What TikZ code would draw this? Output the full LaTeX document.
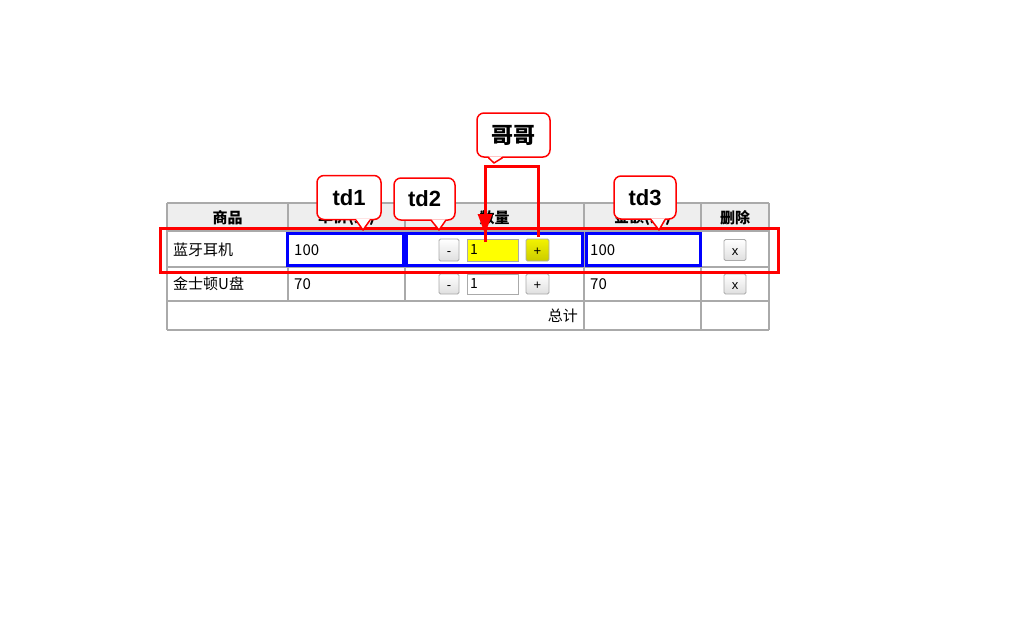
\documentclass[tikz,border=0pt]{standalone}
\usepackage{fontspec}
\setmainfont{Liberation Sans}
\newfontfamily\cjk{Noto Sans CJK SC}
\usetikzlibrary{arrows.meta}

\definecolor{gridgray}{HTML}{AAAAAA}
\definecolor{headgray}{HTML}{EEEEEE}
\definecolor{marker}{HTML}{FF0000}
\definecolor{cellblue}{HTML}{0000FF}
\definecolor{hiyellow}{HTML}{FFFF00}

% speech bubble pointer: #1 node, #2 base shift, #3 tip
\newcommand{\bubtip}[3]{%
  \fill[white] ([xshift=#2-7pt,yshift=1.5pt]#1.south) -- #3 -- ([xshift=#2+7pt,yshift=1.5pt]#1.south) -- cycle;
  \draw[marker,line width=1.5pt,line join=round] ([xshift=#2-7pt]#1.south) -- #3 -- ([xshift=#2+7pt]#1.south);
}

\begin{document}
\begin{tikzpicture}[x=1pt,y=-1pt,
  gridline/.style={gridgray,line width=2pt},
  cell/.style={font=\cjk\fontsize{15}{18}\selectfont,inner sep=0pt},
  headcell/.style={cell,font=\cjk\bfseries\fontsize{15}{18}\selectfont},
  btn/.style={draw=gridgray,line width=0.8pt,rounded corners=1.5pt,top color=white,bottom color=gray!25,
    font=\fontsize{13}{15}\selectfont,text height=10pt,text depth=0pt,minimum height=22pt,inner sep=0pt},
  inbox/.style={draw=gridgray,line width=0.8pt,minimum width=51pt,minimum height=22pt,inner sep=2pt,
    font=\cjk\fontsize{14}{16}\selectfont,text width=45pt,align=left},
  tdbox/.style={draw=cellblue,line width=3pt},
  bubble/.style={draw=marker,fill=white,line width=1.5pt,rounded corners=7pt,
    inner sep=0pt,font=\bfseries\fontsize{22}{26}\selectfont},
  redline/.style={marker,line width=3pt}]
\useasboundingbox (0,0) rectangle (1021,619);

% Header row
\fill[headgray] (167,203) rectangle (769,231);

% Table grid
\foreach \y in {203,231,267,301,330}
  \draw[gridline] (167,\y) -- (769,\y);
\foreach \x in {167,584,701,769}
  \draw[gridline] (\x,203) -- (\x,330);
\foreach \x in {288,405}
  \draw[gridline] (\x,203) -- (\x,301);

% Header texts
\node[headcell] (hname)  at (227.5,218) {商品};
\node[headcell] (hprice) at (346.5,218) {单价(元)};
\node[headcell] (hqty)   at (494.5,218) {数量};
\node[headcell] (hsum)   at (642.5,218) {金额(元)};
\node[headcell] (hdel)   at (735,218)   {删除};

% Row 1
\node[cell,anchor=west] (name1)  at (173,250) {蓝牙耳机};
\node[cell,anchor=west] (price1) at (294,250) {100};
\node[btn,minimum width=20pt] (minus1) at (449,250) {-};
\node[inbox,fill=hiyellow] (qty1) at (492.5,250) {1};
\node[btn,minimum width=23pt,top color=hiyellow!95!black,bottom color=hiyellow!80!black] (plus1) at (537.5,250) {+};
\node[cell,anchor=west] (sum1)   at (590,250) {100};
\node[btn,minimum width=22pt,minimum height=21pt] (del1) at (735,250) {x};

% Row 2
\node[cell,anchor=west] (name2)  at (173,284) {金士顿U盘};
\node[cell,anchor=west] (price2) at (294,284) {70};
\node[btn,minimum width=20pt,minimum height=20pt] (minus2) at (449,284) {-};
\node[inbox,fill=white,minimum height=20pt] (qty2) at (492.5,284) {1};
\node[btn,minimum width=23pt,minimum height=20pt] (plus2) at (537.5,284) {+};
\node[cell,anchor=west] (sum2)   at (590,284) {70};
\node[btn,minimum width=22pt,minimum height=20pt] (del2) at (735,284) {x};

% Total row
\node[cell,anchor=east] (total) at (578,316) {总计};

% td marks
\draw[tdbox] (287,233) rectangle (403,265);
\draw[tdbox] (406,233) rectangle (582,265);
\draw[tdbox] (586,233) rectangle (700,265);
\draw[redline] (160,228) rectangle (778,272);

% Brother arrows
\coordinate (gl) at (485,166);
\coordinate (gr) at (538,166);
\coordinate (al) at (485,242);
\coordinate (ar) at (538,237);
\draw[redline] (al) -- (gl) -- (gr) -- (ar);
\draw[marker,line width=3pt,-{Triangle[width=14pt,length=20pt]}] (485,205) -- (485,234);

% Callouts
\node[bubble,minimum width=64pt,minimum height=44pt] (td1) at (349,197.5) {td1};
\bubtip{td1}{14pt}{(363,230)}
\node[bubble,minimum width=61pt,minimum height=42pt] (td2) at (424.5,199) {td2};
\bubtip{td2}{14pt}{(439,230)}
\node[bubble,minimum width=62pt,minimum height=43pt] (td3) at (645,197.5) {td3};
\bubtip{td3}{13pt}{(659,230)}
\node[bubble,font=\cjk\bfseries\fontsize{22}{26}\selectfont,minimum width=73pt,minimum height=44pt] (bro) at (513.5,135) {哥哥};
\bubtip{bro}{-18pt}{(494,163)}
\end{tikzpicture}
\end{document}
